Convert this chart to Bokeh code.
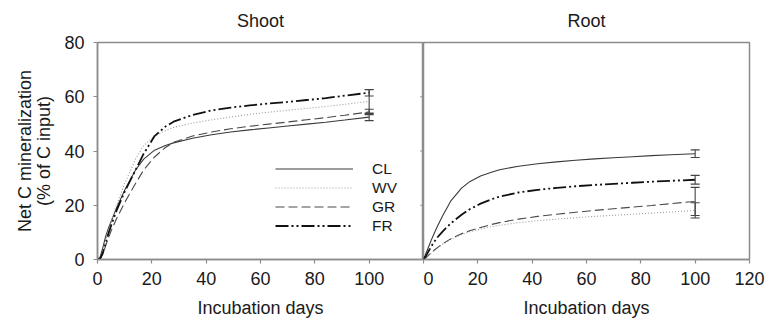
from bokeh.plotting import figure
from bokeh.layouts import row
from bokeh.models import Range1d, FixedTicker, Legend, LegendItem
from bokeh.embed import file_html
from bokeh.resources import INLINE

# ---------------- data ----------------
days = [0, 1, 2, 3, 4, 5, 7, 10, 14, 17, 21, 25, 28, 35, 42, 49, 56, 63, 70, 77, 84, 91, 100]

shoot_cl = [0, 1.0, 4.5, 8.5, 11.5, 14.0, 19.0, 25.5, 33.0, 37.0, 40.3, 42.0, 43.0, 44.7, 46.0, 47.0, 47.8, 48.5, 49.2, 49.9, 50.6, 51.4, 52.5]
shoot_wv = [0, 0.5, 3.0, 7.0, 10.5, 14.0, 20.0, 28.0, 37.0, 42.0, 45.5, 47.5, 48.7, 50.3, 51.5, 52.5, 53.5, 54.3, 55.0, 55.7, 56.4, 57.2, 58.3]
shoot_gr = [0, 0.3, 2.0, 5.0, 8.0, 10.5, 15.0, 21.0, 28.0, 33.0, 37.8, 41.3, 43.2, 45.5, 47.0, 48.2, 49.1, 49.9, 50.7, 51.5, 52.3, 53.2, 54.4]
shoot_fr = [0, 0.3, 2.5, 6.0, 9.5, 12.5, 18.0, 25.0, 33.0, 39.0, 45.5, 49.0, 50.8, 53.3, 55.0, 56.0, 56.8, 57.5, 58.1, 58.8, 59.5, 60.4, 61.5]

root_cl = [0, 2.5, 5.0, 7.5, 9.8, 12.0, 16.0, 21.5, 26.3, 28.7, 30.8, 32.2, 33.1, 34.4, 35.3, 36.0, 36.6, 37.1, 37.5, 37.9, 38.3, 38.6, 39.0]
root_wv = [0, 0.7, 1.5, 2.4, 3.3, 4.1, 5.6, 7.4, 9.2, 10.2, 11.2, 12.1, 12.6, 13.6, 14.3, 14.9, 15.4, 15.9, 16.3, 16.7, 17.1, 17.5, 18.1]
root_gr = [0, 0.8, 1.7, 2.6, 3.5, 4.3, 5.8, 7.6, 9.5, 10.6, 11.8, 12.9, 13.6, 14.9, 15.9, 16.7, 17.4, 18.1, 18.7, 19.3, 19.9, 20.6, 21.4]
root_fr = [0, 1.5, 3.3, 5.0, 6.6, 8.0, 10.3, 13.3, 16.5, 18.5, 20.6, 22.2, 23.2, 24.7, 25.7, 26.4, 27.0, 27.5, 27.9, 28.3, 28.7, 29.0, 29.4]

series_names = ["CL", "WV", "GR", "FR"]
shoot_err = [1.3, 4.3, 1.0, 1.2]   # error at day 100
root_err = [1.4, 2.8, 5.2, 1.6]

panel_titles = ["Shoot", "Root"]
x_label = "Incubation days"
y_label = "Net C mineralization\n(% of C input)"
x_ticks = [0, 20, 40, 60, 80, 100, 120]
y_ticks = [0, 20, 40, 60, 80]
x_max = 120
y_max = 80

# ---------------- styles ----------------
FONT = "Liberation Sans"
FS = "18px"
GRAY = "#8c8c8c"
TXT = "#1a1a1a"
styles = {
    "CL": dict(line_color="#3a3a3a", line_width=1.1, line_dash="solid"),
    "WV": dict(line_color="#9a9a9a", line_width=1.1, line_dash="1 2"),
    "GR": dict(line_color="#4a4a4a", line_width=1.1, line_dash="9 4"),
    "FR": dict(line_color="#111111", line_width=1.8, line_dash="13 3 2 3 2 3"),
}


def make_panel(title, data, errs, width, left, right, tick_list):
    p = figure(width=width, height=325, output_backend="svg", toolbar_location=None,
               x_range=Range1d(0, x_max), y_range=Range1d(0, y_max),
               min_border_left=left, min_border_right=right, min_border_top=41, min_border_bottom=66)
    p.grid.visible = False
    p.outline_line_color = GRAY
    p.outline_line_width = 1.5
    p.title.text = title
    p.title.align = "center"
    p.title.vertical_align = "top"
    p.title.text_font = FONT
    p.title.text_font_size = FS
    p.title.text_font_style = "normal"
    p.title.text_color = TXT
    p.title.standoff = 20
    p.xaxis.ticker = FixedTicker(ticks=tick_list)
    p.yaxis.ticker = FixedTicker(ticks=y_ticks)
    for ax in (p.xaxis, p.yaxis):
        ax.axis_line_color = GRAY
        ax.axis_line_width = 1.5
        ax.major_tick_line_color = GRAY
        ax.major_tick_line_width = 1.2
        ax.major_tick_out = 4
        ax.major_tick_in = 0
        ax.minor_tick_line_color = None
        ax.major_label_text_font = FONT
        ax.major_label_text_font_size = FS
        ax.major_label_text_color = TXT
        ax.axis_label_text_font = FONT
        ax.axis_label_text_font_size = FS
        ax.axis_label_text_font_style = "normal"
        ax.axis_label_text_color = TXT
    p.xaxis.major_label_standoff = 8
    p.yaxis.major_label_standoff = 9
    p.xaxis.axis_label = x_label
    p.xaxis.axis_label_standoff = 10

    renderers = {}
    for name in series_names:
        renderers[name] = p.line(days, data[name], **styles[name])
    xs = [days[-1]] * len(series_names)
    lo = [data[n][-1] - e for n, e in zip(series_names, errs)]
    hi = [data[n][-1] + e for n, e in zip(series_names, errs)]
    p.segment(x0=xs, x1=xs, y0=lo, y1=hi, line_color="#444444", line_width=1.1)
    p.scatter(x=xs + xs, y=lo + hi, marker="dash", size=9, line_color="#444444", line_width=1.1)
    return p, renderers


shoot = dict(zip(series_names, [shoot_cl, shoot_wv, shoot_gr, shoot_fr]))
root = dict(zip(series_names, [root_cl, root_wv, root_gr, root_fr]))

p1, rend = make_panel(panel_titles[0], shoot, shoot_err, 423, 97, 0, [t for t in x_ticks if t < x_max])
p1.yaxis.axis_label = y_label
p1.yaxis.axis_label_standoff = 7
p1.yaxis.axis_label_text_line_height = 0.95
# small ticks of the right panel's y axis, pointing left from the divider
inner = [t for t in y_ticks if 0 < t < y_max]
p1.segment(x0=[x_max - 1.2] * len(inner), x1=[x_max] * len(inner), y0=inner, y1=inner,
           line_color=GRAY, line_width=1.2)

legend = Legend(items=[LegendItem(label=n, renderers=[rend[n]]) for n in series_names],
                location=(178, 24), glyph_width=78, glyph_height=19, label_height=19, spacing=0,
                padding=0, margin=0, label_standoff=19, label_text_font=FONT, label_text_font_size="15.5px",
                label_text_color=TXT, border_line_color=None, background_fill_alpha=0)
p1.add_layout(legend)

p2, _ = make_panel(panel_titles[1], root, root_err, 352, 0, 26, x_ticks)
p2.yaxis.visible = False

layout = row(p1, p2, spacing=0)
open("out.html", "w").write(file_html(layout, INLINE))
